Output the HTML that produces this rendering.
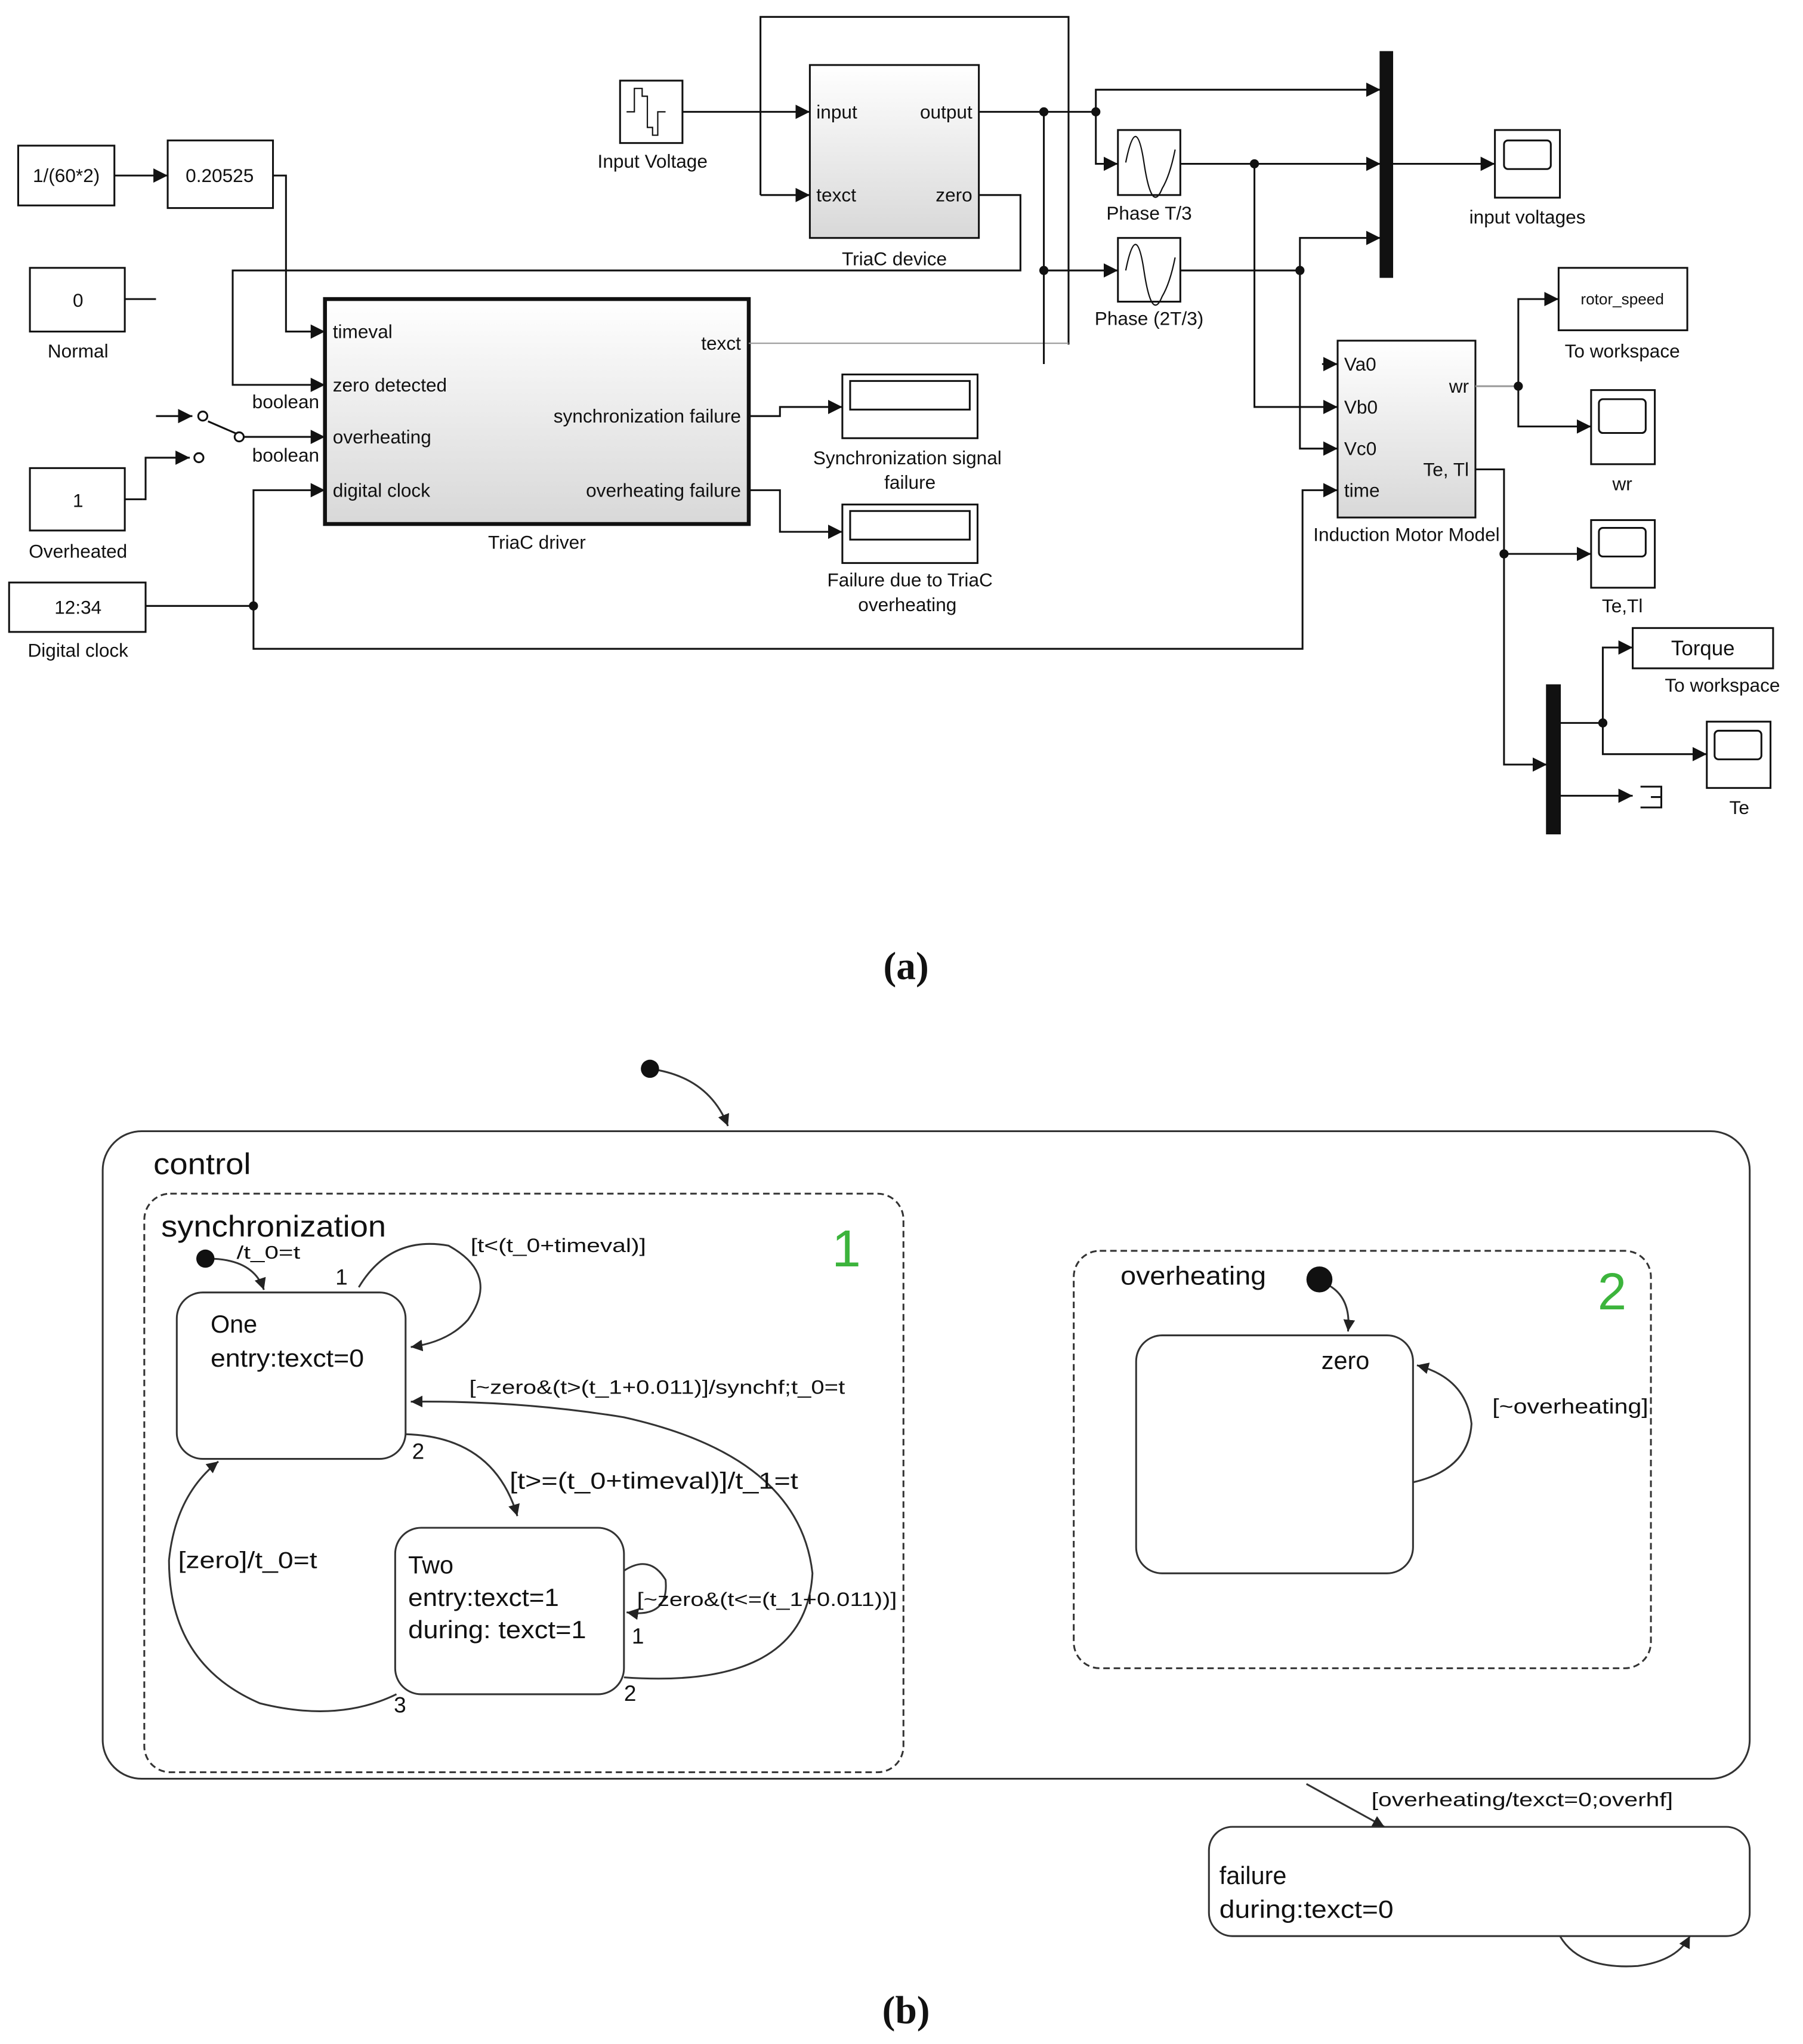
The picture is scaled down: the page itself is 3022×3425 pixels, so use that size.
<!DOCTYPE html>
<html><head><meta charset="utf-8"><style>
html,body{margin:0;padding:0;background:#fff}
svg{display:block}
text{font-family:"Liberation Sans",sans-serif;fill:#111}
</style></head><body>
<svg width="3022" height="3425" viewBox="0 0 1387 1572" preserveAspectRatio="none" xmlns="http://www.w3.org/2000/svg">
<defs>
<marker id="a" viewBox="0 0 10 10" refX="10" refY="5" markerWidth="11" markerHeight="11" markerUnits="userSpaceOnUse" orient="auto"><path d="M0,0L10,5L0,10z" fill="#111"/></marker>
<marker id="b" viewBox="0 0 10 10" refX="10" refY="5" markerWidth="9" markerHeight="9" markerUnits="userSpaceOnUse" orient="auto"><path d="M0,0L10,5L0,10z" fill="#222"/></marker>
<linearGradient id="g" x1="0" y1="0" x2="0" y2="1"><stop offset="0" stop-color="#fff"/><stop offset="1" stop-color="#d8d8d8"/></linearGradient>
</defs>
<g fill="none" stroke="#111" stroke-width="1.4">
<rect x="14" y="112" width="74" height="46" fill="#fff"/>
<rect x="129" y="108" width="81" height="52" fill="#fff"/>
<rect x="23" y="206" width="73" height="49" fill="#fff"/>
<rect x="23" y="360" width="73" height="48" fill="#fff"/>
<rect x="7" y="448" width="105" height="38" fill="#fff"/>
<rect x="250" y="230" width="326" height="173" fill="url(#g)" stroke-width="3"/>
<rect x="477" y="62" width="48" height="48" fill="#fff"/>
<path d="M482,86h6v-18h6v6h4v24h4v6h4v-18h6" stroke-width="1"/>
<rect x="623" y="50" width="130" height="133" fill="url(#g)"/>
<rect x="860" y="100" width="48" height="50" fill="#fff"/>
<rect x="860" y="183" width="48" height="49" fill="#fff"/>
<path d="M866,125q8,-40 14,0t14,20q6,-10 10,-30M866,208q8,-40 14,0t14,20q6,-10 10,-30" stroke-width="1"/>
<rect x="1062" y="40" width="9" height="173" fill="#111"/>
<rect x="1150" y="100" width="50" height="52" fill="#fff"/>
<rect x="1157" y="108" width="36" height="22" rx="3"/>
<rect x="1029" y="262" width="106" height="136" fill="url(#g)"/>
<rect x="1199" y="206" width="99" height="48" fill="#fff"/>
<rect x="1224" y="300" width="49" height="57" fill="#fff"/>
<rect x="1230" y="307" width="36" height="26" rx="3"/>
<rect x="1224" y="400" width="49" height="52" fill="#fff"/>
<rect x="1230" y="406" width="36" height="22" rx="3"/>
<rect x="1190" y="527" width="10" height="114" fill="#111"/>
<rect x="1256" y="483" width="108" height="31" fill="#fff"/>
<rect x="1313" y="555" width="49" height="51" fill="#fff"/>
<rect x="1319" y="562" width="36" height="22" rx="3"/>
<path d="M1262,605h16v16h-16M1270,613h8"/>
<rect x="648" y="288" width="104" height="49" fill="#fff"/>
<rect x="654" y="293" width="92" height="22"/>
<rect x="648" y="388" width="104" height="45" fill="#fff"/>
<rect x="654" y="393" width="92" height="22"/>
<path d="M88,135H129" marker-end="url(#a)"/>
<path d="M210,135H220V255H250" marker-end="url(#a)"/>
<path d="M96,230H120"/>
<path d="M525,86H623" marker-end="url(#a)"/>
<path d="M585,150V13H822V265" />
<path d="M585,150H623" marker-end="url(#a)"/>
<path d="M576,264H822" stroke="#999" stroke-width="1"/>
<path d="M753,86H843V69H1062" marker-end="url(#a)"/>
<path d="M843,86V126H860" marker-end="url(#a)"/>
<path d="M803,86V280"/>
<path d="M803,208H860" marker-end="url(#a)"/>
<path d="M753,150H785V208H179V296H250" marker-end="url(#a)"/>
<path d="M908,126H1062" marker-end="url(#a)"/>
<path d="M1071,126H1150" marker-end="url(#a)"/>
<path d="M965,126V313H1029" marker-end="url(#a)"/>
<path d="M908,208H1000V183H1062" marker-end="url(#a)"/>
<path d="M1000,208V345H1029" marker-end="url(#a)"/>
<path d="M1017,280H1029" marker-end="url(#a)"/>
<path d="M112,466H195V377H250" marker-end="url(#a)"/>
<path d="M195,466V499H1002V377H1029" marker-end="url(#a)"/>
<path d="M1135,297H1168" stroke="#999"/>
<path d="M1168,297V230H1199" marker-end="url(#a)"/>
<path d="M1168,297V328H1224" marker-end="url(#a)"/>
<path d="M1135,361H1157V426H1224" marker-end="url(#a)"/>
<path d="M1157,426V588H1190" marker-end="url(#a)"/>
<path d="M1200,556H1233V498H1256" marker-end="url(#a)"/>
<path d="M1233,556V580H1313" marker-end="url(#a)"/>
<path d="M1200,612H1256" marker-end="url(#a)"/>
<path d="M576,320H600V313H648" marker-end="url(#a)"/>
<path d="M576,377H600V409H648" marker-end="url(#a)"/>
<path d="M120,320H148" marker-end="url(#a)"/>
<path d="M160,324L183,334M187,336H250" marker-end="url(#a)"/>
<path d="M110,384H112V352H146" marker-end="url(#a)"/>
<circle cx="156" cy="320" r="3.5" fill="#fff"/><circle cx="184" cy="336" r="3.5" fill="#fff"/><circle cx="153" cy="352" r="3.5" fill="#fff"/>
<path d="M96,384H110"/>
</g>
<g fill="#111">
<circle cx="803" cy="86" r="3.5"/><circle cx="843" cy="86" r="3.5"/><circle cx="803" cy="208" r="3.5"/><circle cx="965" cy="126" r="3.5"/><circle cx="1000" cy="208" r="3.5"/><circle cx="195" cy="466" r="3.5"/><circle cx="1168" cy="297" r="3.5"/><circle cx="1157" cy="426" r="3.5"/><circle cx="1233" cy="556" r="3.5"/>
</g>
<g font-size="14.5">
<text x="51" y="140" text-anchor="middle">1/(60*2)</text>
<text x="169" y="140" text-anchor="middle">0.20525</text>
<text x="60" y="236" text-anchor="middle">0</text>
<text x="60" y="275" text-anchor="middle">Normal</text>
<text x="60" y="390" text-anchor="middle">1</text>
<text x="60" y="429" text-anchor="middle">Overheated</text>
<text x="60" y="472" text-anchor="middle">12:34</text>
<text x="60" y="505" text-anchor="middle">Digital clock</text>
<text x="256" y="260">timeval</text>
<text x="256" y="301">zero detected</text>
<text x="256" y="341">overheating</text>
<text x="256" y="382">digital clock</text>
<text x="570" y="269" text-anchor="end">texct</text>
<text x="570" y="325" text-anchor="end">synchronization failure</text>
<text x="570" y="382" text-anchor="end">overheating failure</text>
<text x="194" y="314">boolean</text>
<text x="194" y="355">boolean</text>
<text x="413" y="422" text-anchor="middle">TriaC driver</text>
<text x="502" y="129" text-anchor="middle">Input Voltage</text>
<text x="628" y="91">input</text>
<text x="628" y="155">texct</text>
<text x="748" y="91" text-anchor="end">output</text>
<text x="748" y="155" text-anchor="end">zero</text>
<text x="688" y="204" text-anchor="middle">TriaC device</text>
<text x="884" y="169" text-anchor="middle">Phase T/3</text>
<text x="884" y="250" text-anchor="middle">Phase (2T/3)</text>
<text x="1175" y="172" text-anchor="middle">input voltages</text>
<text x="1034" y="285">Va0</text>
<text x="1034" y="318">Vb0</text>
<text x="1034" y="350">Vc0</text>
<text x="1034" y="382">time</text>
<text x="1130" y="302" text-anchor="end">wr</text>
<text x="1130" y="366" text-anchor="end">Te, Tl</text>
<text x="1082" y="416" text-anchor="middle">Induction Motor Model</text>
<text x="1248" y="234" text-anchor="middle" font-size="12">rotor_speed</text>
<text x="1248" y="275" text-anchor="middle">To workspace</text>
<text x="1248" y="377" text-anchor="middle">wr</text>
<text x="1248" y="471" text-anchor="middle">Te,Tl</text>
<text x="1310" y="504" text-anchor="middle" font-size="16">Torque</text>
<text x="1325" y="532" text-anchor="middle">To workspace</text>
<text x="1338" y="626" text-anchor="middle">Te</text>
<text x="698" y="357" text-anchor="middle">Synchronization signal</text>
<text x="700" y="376" text-anchor="middle">failure</text>
<text x="700" y="451" text-anchor="middle">Failure due to TriaC</text>
<text x="698" y="470" text-anchor="middle">overheating</text>
</g>
<text x="697" y="753" text-anchor="middle" font-size="30" font-weight="bold" style="font-family:'Liberation Serif',serif">(a)</text>
<text x="697" y="1556" text-anchor="middle" font-size="30" font-weight="bold" style="font-family:'Liberation Serif',serif">(b)</text>

<g fill="none" stroke="#333" stroke-width="1.4">
<path d="M500,822Q545,828 560,866" marker-end="url(#b)"/>
<rect x="79" y="870" width="1267" height="498" rx="30"/>
<rect x="111" y="918" width="584" height="445" rx="20" stroke-dasharray="5,3"/>
<rect x="826" y="962" width="444" height="321" rx="20" stroke-dasharray="5,3"/>
<rect x="136" y="994" width="176" height="128" rx="20"/>
<rect x="304" y="1175" width="176" height="128" rx="20"/>
<rect x="874" y="1027" width="213" height="183" rx="20"/>
<rect x="930" y="1405" width="416" height="84" rx="18"/>
<path d="M160,968Q195,968 203,992" marker-end="url(#b)"/>
<path d="M276,990Q300,950 345,958Q385,980 360,1015Q345,1032 316,1036" marker-end="url(#b)"/>
<path d="M312,1103Q380,1105 398,1166" marker-end="url(#b)"/>
<path d="M480,1290Q620,1300 625,1210Q615,1120 480,1090Q400,1077 316,1078" marker-end="url(#b)"/>
<path d="M480,1208Q500,1195 512,1215Q515,1245 482,1240" marker-end="url(#b)"/>
<path d="M305,1303Q260,1325 200,1310Q130,1280 130,1200Q135,1150 168,1124" marker-end="url(#b)"/>
<path d="M1017,986Q1040,995 1037,1024" marker-end="url(#b)"/>
<path d="M1087,1140Q1130,1130 1132,1095Q1128,1060 1090,1050" marker-end="url(#b)"/>
<path d="M1005,1372L1065,1405" marker-end="url(#b)"/>
<path d="M1200,1489Q1215,1515 1260,1512Q1290,1508 1300,1489" marker-end="url(#b)"/>
</g>
<g fill="#111"><circle cx="500" cy="822" r="7"/><circle cx="158" cy="968" r="7"/><circle cx="1015" cy="984" r="10"/></g>
<g font-size="17" fill="#333">
<text x="118" y="903" font-size="23" textLength="75" lengthAdjust="spacingAndGlyphs">control</text>
<text x="124" y="951" font-size="23" textLength="173" lengthAdjust="spacingAndGlyphs">synchronization</text>
<text x="640" y="974" font-size="40" style="fill:#3cb43c">1</text>
<text x="1229" y="1007" font-size="40" style="fill:#3cb43c">2</text>
<text x="182" y="968" font-size="14" textLength="49" lengthAdjust="spacingAndGlyphs">/t_0=t</text>
<text x="258" y="988">1</text>
<text x="362" y="963" font-size="15" textLength="135" lengthAdjust="spacingAndGlyphs">[t&lt;(t_0+timeval)]</text>
<text x="162" y="1025" font-size="19">One</text>
<text x="162" y="1051" font-size="19" textLength="118" lengthAdjust="spacingAndGlyphs">entry:texct=0</text>
<text x="361" y="1072" font-size="15" textLength="289" lengthAdjust="spacingAndGlyphs">[~zero&amp;(t&gt;(t_1+0.011)]/synchf;t_0=t</text>
<text x="317" y="1122">2</text>
<text x="392" y="1145" font-size="18" textLength="222" lengthAdjust="spacingAndGlyphs">[t&gt;=(t_0+timeval)]/t_1=t</text>
<text x="314" y="1210" font-size="19">Two</text>
<text x="314" y="1235" font-size="19" textLength="116" lengthAdjust="spacingAndGlyphs">entry:texct=1</text>
<text x="314" y="1260" font-size="19" textLength="137" lengthAdjust="spacingAndGlyphs">during: texct=1</text>
<text x="490" y="1235" font-size="15" textLength="200" lengthAdjust="spacingAndGlyphs">[~zero&amp;(t&lt;=(t_1+0.011))]</text>
<text x="486" y="1264">1</text>
<text x="480" y="1308">2</text>
<text x="137" y="1206" font-size="18" textLength="107" lengthAdjust="spacingAndGlyphs">[zero]/t_0=t</text>
<text x="303" y="1317">3</text>
<text x="862" y="988" font-size="20" textLength="112" lengthAdjust="spacingAndGlyphs">overheating</text>
<text x="1035" y="1053" font-size="19" text-anchor="middle">zero</text>
<text x="1148" y="1087" font-size="16" textLength="120" lengthAdjust="spacingAndGlyphs">[~overheating]</text>
<text x="1055" y="1389" font-size="15" textLength="232" lengthAdjust="spacingAndGlyphs">[overheating/texct=0;overhf]</text>
<text x="938" y="1449" font-size="19">failure</text>
<text x="938" y="1475" font-size="19" textLength="134" lengthAdjust="spacingAndGlyphs">during:texct=0</text>
</g>
</svg>
</body></html>
